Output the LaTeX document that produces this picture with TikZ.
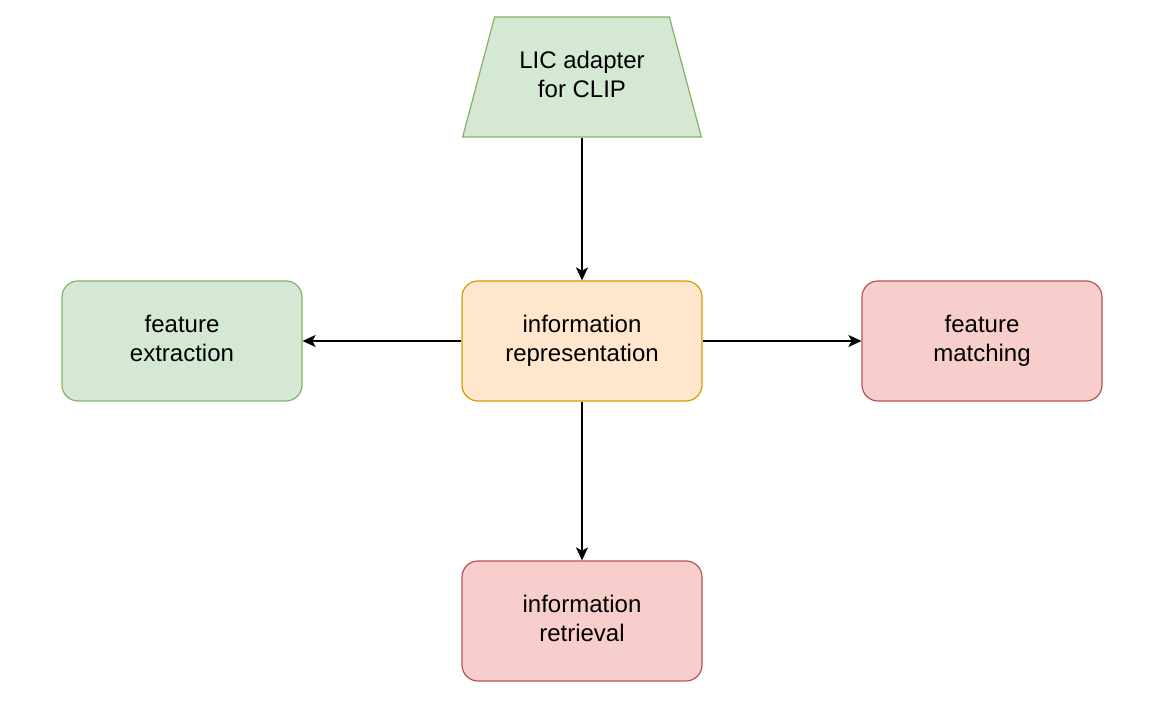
\documentclass[tikz,border=0pt]{standalone}
\usepackage{fontspec}
\setmainfont{Liberation Sans}
\usetikzlibrary{arrows.meta,shapes.geometric}

\definecolor{gruenfill}{HTML}{D5E8D4}
\definecolor{gruenrand}{HTML}{82B366}
\definecolor{orangefill}{HTML}{FFE6CC}
\definecolor{orangerand}{HTML}{D79B00}
\definecolor{rotfill}{HTML}{F8CECC}
\definecolor{rotrand}{HTML}{B85450}

\tikzset{
  schrift/.style={align=center, font=\fontsize{12}{14.5}\selectfont,
    execute at end node={\vphantom{p}}},
  kasten/.style={schrift, rectangle, rounded corners=8pt, line width=0.6pt,
    minimum width=120pt, minimum height=60pt},
  gruen/.style={kasten, draw=gruenrand, fill=gruenfill},
  orange/.style={kasten, draw=orangerand, fill=orangefill},
  rot/.style={kasten, draw=rotrand, fill=rotfill},
  pfeil/.style={line width=0.65pt, -{Stealth[length=6.5pt,width=6pt,inset=1.6pt]}}
}

\begin{document}
\begin{tikzpicture}[x=0.5pt,y=-0.5pt]

  \useasboundingbox (0,0) rectangle (1158,704);

  % Adapter oben
  \node[schrift, trapezium, trapezium left angle=68.6, trapezium right angle=68.6,
        trapezium stretches=true, minimum width=120pt, minimum height=60pt,
        draw=gruenrand, fill=gruenfill, line width=0.6pt]
    (adapter) at (582,77) {LIC adapter\\for CLIP};

  % Kästen
  \node[orange] (repr) at (582,341) {information\\representation};
  \node[gruen]  (extr) at (182,341) {feature\\extraction};
  \node[rot]    (match) at (982,341) {feature\\matching};
  \node[rot]    (retr) at (582,621) {information\\retrieval};

  % Pfeile
  \draw[pfeil] (repr.north |- adapter.south) -- (repr.north);
  \draw[pfeil] (repr.west) -- (extr.east);
  \draw[pfeil] (repr.east) -- (match.west);
  \draw[pfeil] (repr.south) -- (retr.north);

\end{tikzpicture}
\end{document}
